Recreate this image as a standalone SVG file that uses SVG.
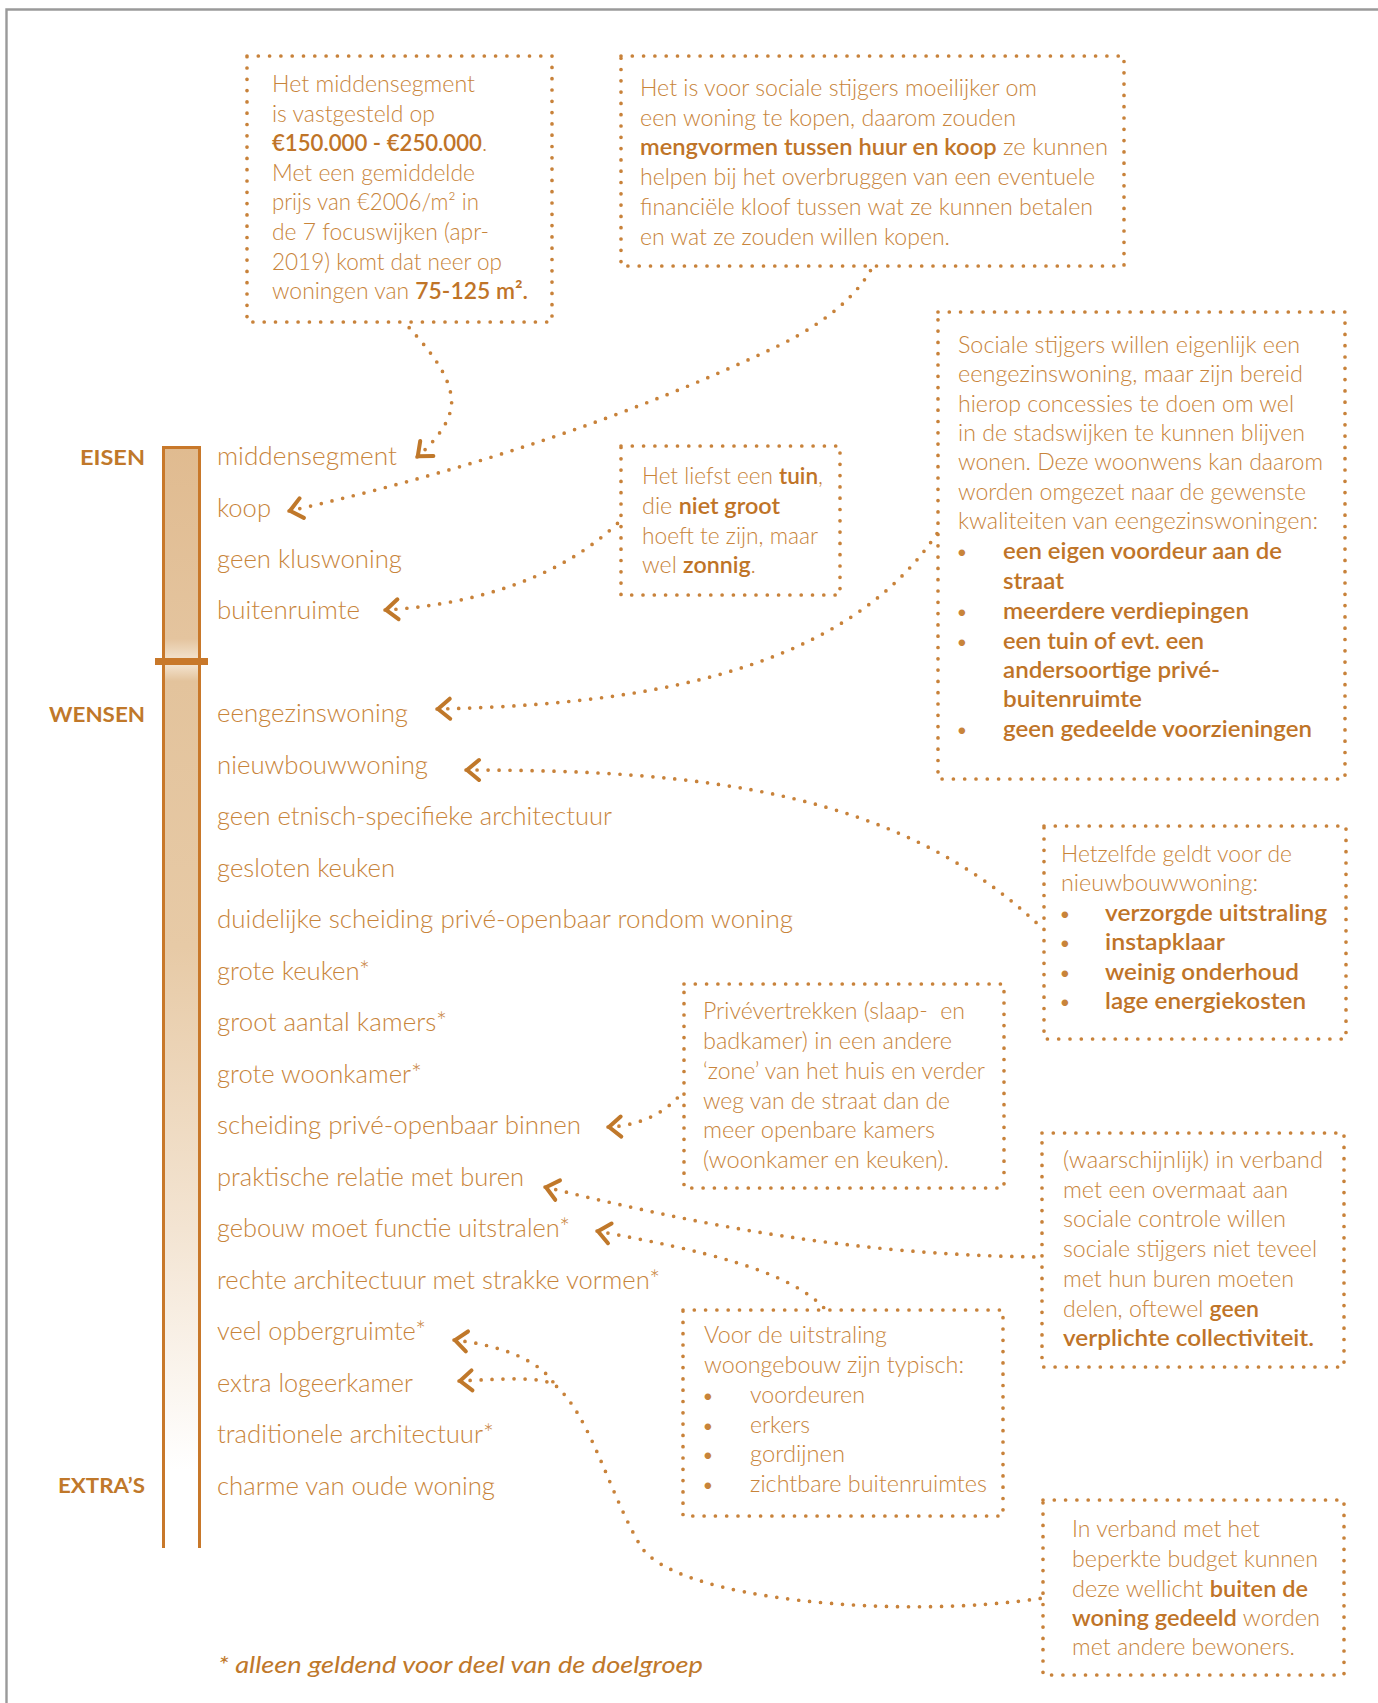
<svg xmlns="http://www.w3.org/2000/svg" width="1378" height="1703" viewBox="0 0 1378 1703">
<style>
.t{font-family:Lato,'Open Sans','Liberation Sans',sans-serif;font-weight:300;fill:#c8843a;font-size:23px}
.b{font-weight:600;fill:#bf7428}
.li{font-size:25px}
.bu{font-size:22px;fill:#c8843a;text-anchor:middle}
.bx{fill:none;stroke:#c8823a;stroke-width:3.7;stroke-dasharray:0 11.3;stroke-linecap:round}
.con{fill:none;stroke:#c8823a;stroke-width:3.7;stroke-dasharray:0 11;stroke-linecap:round;marker-start:url(#arr)}
.lab{font-family:Lato,'Open Sans','Liberation Sans',sans-serif;font-weight:700;font-size:21px;fill:#c0782a;text-anchor:end}
.foot{font-family:Lato,'Open Sans','Liberation Sans',sans-serif;font-style:italic;font-weight:400;font-size:24px;fill:#c0782a}
</style>
<defs>
<marker id="arr" markerUnits="userSpaceOnUse" markerWidth="40" markerHeight="40" viewBox="-20 -20 40 40" refX="0" refY="0" orient="auto" style="overflow:visible">
<path d="M13 -10 L1 0 L13 10" fill="none" stroke="#c0782a" stroke-width="4" stroke-linecap="round" stroke-linejoin="round"/>
</marker>
<linearGradient id="gTop" x1="0" y1="0" x2="0" y2="1">
<stop offset="0" stop-color="#e0bb90"/>
<stop offset="0.9" stop-color="#e4c49e"/>
<stop offset="1" stop-color="#f3e3cf"/>
</linearGradient>
<linearGradient id="gBot" gradientUnits="userSpaceOnUse" x1="0" y1="665" x2="0" y2="1470">
<stop offset="0" stop-color="#f3e2cd"/>
<stop offset="0.02" stop-color="#e3c39c"/>
<stop offset="0.35" stop-color="#e7caa6"/>
<stop offset="0.7" stop-color="#f3e4d2"/>
<stop offset="1" stop-color="#ffffff"/>
</linearGradient>
</defs>
<rect width="1378" height="1703" fill="#ffffff"/>
<g id="frame" fill="none" stroke="#9a9a9a" stroke-width="2.4">
<path d="M6.5 1703 V9.5 H1378"/>
</g>

<g id="scale-bar">
<rect x="163" y="446" width="37" height="214" fill="url(#gTop)"/>
<rect x="163" y="665" width="37" height="883" fill="url(#gBot)"/>
<path d="M163.5 1548 V447.5 H199.5 V1548" fill="none" stroke="#c8782a" stroke-width="3"/>
<rect x="155" y="658" width="53" height="7" fill="#c8782a"/>
</g>

<g id="scale-labels">
<text class="lab" x="145" y="465" textLength="65" lengthAdjust="spacingAndGlyphs">EISEN</text>
<text class="lab" x="145" y="722" textLength="96" lengthAdjust="spacingAndGlyphs">WENSEN</text>
<text class="lab" x="145" y="1493" textLength="87" lengthAdjust="spacingAndGlyphs">EXTRA’S</text>
</g>

<g id="items" class="t li">
<text id="i-middensegment" x="217" y="465" textLength="180" lengthAdjust="spacingAndGlyphs">middensegment</text>
<text id="i-koop" x="217" y="517" textLength="54" lengthAdjust="spacingAndGlyphs">koop</text>
<text id="i-kluswoning" x="217" y="568" textLength="185" lengthAdjust="spacingAndGlyphs">geen kluswoning</text>
<text id="i-buitenruimte" x="217" y="619" textLength="143" lengthAdjust="spacingAndGlyphs">buitenruimte</text>
<text id="i-eengezinswoning" x="217" y="722" textLength="191" lengthAdjust="spacingAndGlyphs">eengezinswoning</text>
<text id="i-nieuwbouwwoning" x="217" y="774" textLength="211" lengthAdjust="spacingAndGlyphs">nieuwbouwwoning</text>
<text id="i-etnisch" x="217" y="825" textLength="395" lengthAdjust="spacingAndGlyphs">geen etnisch-specifieke architectuur</text>
<text id="i-gesloten" x="217" y="877" textLength="178" lengthAdjust="spacingAndGlyphs">gesloten keuken</text>
<text id="i-duidelijke" x="217" y="928" textLength="576" lengthAdjust="spacingAndGlyphs">duidelijke scheiding privé-openbaar rondom woning</text>
<text id="i-grote-keuken" x="217" y="980" textLength="153" lengthAdjust="spacingAndGlyphs">grote keuken*</text>
<text id="i-kamers" x="217" y="1031" textLength="230" lengthAdjust="spacingAndGlyphs">groot aantal kamers*</text>
<text id="i-woonkamer" x="217" y="1083" textLength="205" lengthAdjust="spacingAndGlyphs">grote woonkamer*</text>
<text id="i-scheiding" x="217" y="1134" textLength="364" lengthAdjust="spacingAndGlyphs">scheiding privé-openbaar binnen</text>
<text id="i-buren" x="217" y="1186" textLength="307" lengthAdjust="spacingAndGlyphs">praktische relatie met buren</text>
<text id="i-gebouw" x="217" y="1237" textLength="353" lengthAdjust="spacingAndGlyphs">gebouw moet functie uitstralen*</text>
<text id="i-rechte" x="217" y="1289" textLength="443" lengthAdjust="spacingAndGlyphs">rechte architectuur met strakke vormen*</text>
<text id="i-opberg" x="217" y="1340" textLength="209" lengthAdjust="spacingAndGlyphs">veel opbergruimte*</text>
<text id="i-logeer" x="217" y="1392" textLength="196" lengthAdjust="spacingAndGlyphs">extra logeerkamer</text>
<text id="i-traditionele" x="217" y="1443" textLength="277" lengthAdjust="spacingAndGlyphs">traditionele architectuur*</text>
<text id="i-charme" x="217" y="1495" textLength="278" lengthAdjust="spacingAndGlyphs">charme van oude woning</text>
</g>

<g id="connectors">
<path class="con" d="M417 457 C440 437, 455 415, 451 395 C447 370, 425 345, 404 322"/>
<path class="con" d="M289 511 Q560 450 780 345 Q850 310 873 266"/>
<path class="con" d="M385 610 C470 605, 560 580, 621 520"/>
<path class="con" d="M437 709 C620 705, 840 680, 938 532"/>
<path class="con" d="M466 770 C700 770, 900 790, 1044 930"/>
<path class="con" d="M608 1127 C640 1126, 668 1112, 684 1090"/>
<path class="con" d="M545 1187 C700 1225, 850 1255, 1042 1257"/>
<path class="con" d="M597 1231 C700 1250, 790 1270, 826 1310"/>
<path class="con" d="M454 1340 C500 1345, 540 1360, 555 1385"/>
<path class="con" d="M459 1381 C500 1379, 540 1376, 555 1385 C590 1415, 608 1490, 640 1545 C672 1600, 900 1620, 1043 1598"/>
</g>

<g id="box-middensegment">
<rect class="bx" x="247" y="56" width="305" height="266"/>
<g class="t">
<text x="272" y="92" textLength="203" lengthAdjust="spacingAndGlyphs">Het middensegment</text>
<text x="272" y="121.5" textLength="163" lengthAdjust="spacingAndGlyphs">is vastgesteld op</text>
<text x="272" y="151" style="font-size:22.2px"><tspan class="b">€150.000 - €250.000</tspan>.</text>
<text x="272" y="181" textLength="203" lengthAdjust="spacingAndGlyphs">Met een gemiddelde</text>
<text x="272" y="210" textLength="207" lengthAdjust="spacingAndGlyphs">prijs van €2006/m² in</text>
<text x="272" y="240" textLength="217" lengthAdjust="spacingAndGlyphs">de 7 focuswijken (apr-</text>
<text x="272" y="270" textLength="230" lengthAdjust="spacingAndGlyphs">2019) komt dat neer op</text>
<text x="272" y="299" textLength="256" lengthAdjust="spacingAndGlyphs">woningen van <tspan class="b">75-125 m².</tspan></text>
</g>
</g>

<g id="box-koop">
<rect class="bx" x="621" y="56" width="503" height="210"/>
<g class="t">
<text x="640" y="96" textLength="397" lengthAdjust="spacingAndGlyphs">Het is voor sociale stijgers moeilijker om</text>
<text x="640" y="126" textLength="376" lengthAdjust="spacingAndGlyphs">een woning te kopen, daarom zouden</text>
<text x="640" y="155" textLength="468" lengthAdjust="spacingAndGlyphs"><tspan class="b">mengvormen tussen huur en koop</tspan> ze kunnen</text>
<text x="640" y="185" textLength="455" lengthAdjust="spacingAndGlyphs">helpen bij het overbruggen van een eventuele</text>
<text x="640" y="215" textLength="453" lengthAdjust="spacingAndGlyphs">financiële kloof tussen wat ze kunnen betalen</text>
<text x="640" y="245" textLength="310" lengthAdjust="spacingAndGlyphs">en wat ze zouden willen kopen.</text>
</g>
</g>

<g id="box-eengezinswoning">
<rect class="bx" x="938" y="312" width="407" height="467"/>
<g class="t">
<text x="958" y="353" textLength="342" lengthAdjust="spacingAndGlyphs">Sociale stijgers willen eigenlijk een</text>
<text x="958" y="382" textLength="345" lengthAdjust="spacingAndGlyphs">eengezinswoning, maar zijn bereid</text>
<text x="958" y="411.5" textLength="336" lengthAdjust="spacingAndGlyphs">hierop concessies te doen om wel</text>
<text x="958" y="441" textLength="347" lengthAdjust="spacingAndGlyphs">in de stadswijken te kunnen blijven</text>
<text x="958" y="470" textLength="365" lengthAdjust="spacingAndGlyphs">wonen. Deze woonwens kan daarom</text>
<text x="958" y="500" textLength="348" lengthAdjust="spacingAndGlyphs">worden omgezet naar de gewenste</text>
<text x="958" y="529" textLength="360" lengthAdjust="spacingAndGlyphs">kwaliteiten van eengezinswoningen:</text>
<text class="bu" x="962" y="559">•</text>
<text class="bu" x="962" y="619">•</text>
<text class="bu" x="962" y="649">•</text>
<text class="bu" x="962" y="737">•</text>
<text class="b" x="1003" y="559" textLength="279" lengthAdjust="spacingAndGlyphs">een eigen voordeur aan de</text>
<text class="b" x="1003" y="589" textLength="61" lengthAdjust="spacingAndGlyphs">straat</text>
<text class="b" x="1003" y="619" textLength="246" lengthAdjust="spacingAndGlyphs">meerdere verdiepingen</text>
<text class="b" x="1003" y="649" textLength="201" lengthAdjust="spacingAndGlyphs">een tuin of evt. een</text>
<text class="b" x="1003" y="678" textLength="217" lengthAdjust="spacingAndGlyphs">andersoortige privé-</text>
<text class="b" x="1003" y="707" textLength="139" lengthAdjust="spacingAndGlyphs">buitenruimte</text>
<text class="b" x="1003" y="737" textLength="309" lengthAdjust="spacingAndGlyphs">geen gedeelde voorzieningen</text>
</g>
</g>

<g id="box-buitenruimte">
<rect class="bx" x="621" y="446" width="219" height="149"/>
<g class="t">
<text x="642" y="484" textLength="181" lengthAdjust="spacingAndGlyphs">Het liefst een <tspan class="b">tuin</tspan>,</text>
<text x="642" y="514" textLength="138" lengthAdjust="spacingAndGlyphs">die <tspan class="b">niet groot</tspan></text>
<text x="642" y="544" textLength="176" lengthAdjust="spacingAndGlyphs">hoeft te zijn, maar</text>
<text x="642" y="573" textLength="114" lengthAdjust="spacingAndGlyphs">wel <tspan class="b">zonnig</tspan>.</text>
</g>
</g>

<g id="box-nieuwbouw">
<rect class="bx" x="1044" y="826" width="302" height="213"/>
<g class="t">
<text x="1061" y="862" textLength="231" lengthAdjust="spacingAndGlyphs">Hetzelfde geldt voor de</text>
<text x="1061" y="891" textLength="197" lengthAdjust="spacingAndGlyphs">nieuwbouwwoning:</text>
<text class="bu" x="1065" y="921">•</text>
<text class="bu" x="1065" y="950">•</text>
<text class="bu" x="1065" y="980">•</text>
<text class="bu" x="1065" y="1009">•</text>
<text class="b" x="1105" y="921" textLength="222" lengthAdjust="spacingAndGlyphs">verzorgde uitstraling</text>
<text class="b" x="1105" y="950" textLength="120" lengthAdjust="spacingAndGlyphs">instapklaar</text>
<text class="b" x="1105" y="980" textLength="194" lengthAdjust="spacingAndGlyphs">weinig onderhoud</text>
<text class="b" x="1105" y="1009" textLength="201" lengthAdjust="spacingAndGlyphs">lage energiekosten</text>
</g>
</g>

<g id="box-privevertrekken">
<rect class="bx" x="684" y="984" width="320" height="204"/>
<g class="t">
<text x="703" y="1019" textLength="262" lengthAdjust="spacingAndGlyphs" xml:space="preserve">Privévertrekken (slaap-  en</text>
<text x="703" y="1049" textLength="249" lengthAdjust="spacingAndGlyphs">badkamer) in een andere</text>
<text x="703" y="1079" textLength="282" lengthAdjust="spacingAndGlyphs">‘zone’ van het huis en verder</text>
<text x="703" y="1109" textLength="247" lengthAdjust="spacingAndGlyphs">weg van de straat dan de</text>
<text x="703" y="1138" textLength="232" lengthAdjust="spacingAndGlyphs">meer openbare kamers</text>
<text x="703" y="1168" textLength="246" lengthAdjust="spacingAndGlyphs">(woonkamer en keuken).</text>
</g>
</g>

<g id="box-buren">
<rect class="bx" x="1042" y="1133" width="302" height="234"/>
<g class="t">
<text x="1063" y="1168" textLength="260" lengthAdjust="spacingAndGlyphs">(waarschijnlijk) in verband</text>
<text x="1063" y="1198" textLength="225" lengthAdjust="spacingAndGlyphs">met een overmaat aan</text>
<text x="1063" y="1227" textLength="223" lengthAdjust="spacingAndGlyphs">sociale controle willen</text>
<text x="1063" y="1257" textLength="254" lengthAdjust="spacingAndGlyphs">sociale stijgers niet teveel</text>
<text x="1063" y="1287" textLength="231" lengthAdjust="spacingAndGlyphs">met hun buren moeten</text>
<text x="1063" y="1317" textLength="196" lengthAdjust="spacingAndGlyphs">delen, oftewel <tspan class="b">geen</tspan></text>
<text class="b" x="1063" y="1346" textLength="251" lengthAdjust="spacingAndGlyphs">verplichte collectiviteit.</text>
</g>
</g>

<g id="box-uitstraling">
<rect class="bx" x="683" y="1310" width="320" height="206"/>
<g class="t">
<text x="704" y="1343" textLength="183" lengthAdjust="spacingAndGlyphs">Voor de uitstraling</text>
<text x="704" y="1373" textLength="260" lengthAdjust="spacingAndGlyphs">woongebouw zijn typisch:</text>
<text class="bu" x="708" y="1403">•</text>
<text class="bu" x="708" y="1433">•</text>
<text class="bu" x="708" y="1462">•</text>
<text class="bu" x="708" y="1492">•</text>
<text x="750" y="1403" textLength="115" lengthAdjust="spacingAndGlyphs">voordeuren</text>
<text x="750" y="1433" textLength="60" lengthAdjust="spacingAndGlyphs">erkers</text>
<text x="750" y="1462" textLength="95" lengthAdjust="spacingAndGlyphs">gordijnen</text>
<text x="750" y="1492" textLength="237" lengthAdjust="spacingAndGlyphs">zichtbare buitenruimtes</text>
</g>
</g>

<g id="box-budget">
<rect class="bx" x="1043" y="1500" width="301" height="175"/>
<g class="t">
<text x="1072" y="1537" textLength="188" lengthAdjust="spacingAndGlyphs">In verband met het</text>
<text x="1072" y="1567" textLength="246" lengthAdjust="spacingAndGlyphs">beperkte budget kunnen</text>
<text x="1072" y="1597" textLength="236" lengthAdjust="spacingAndGlyphs">deze wellicht <tspan class="b">buiten de</tspan></text>
<text x="1072" y="1626" textLength="248" lengthAdjust="spacingAndGlyphs"><tspan class="b">woning gedeeld</tspan> worden</text>
<text x="1072" y="1655" textLength="223" lengthAdjust="spacingAndGlyphs">met andere bewoners.</text>
</g>
</g>

<g id="footnote">
<text class="foot" x="218" y="1673" textLength="485" lengthAdjust="spacingAndGlyphs">* alleen geldend voor deel van de doelgroep</text>
</g>
</svg>
